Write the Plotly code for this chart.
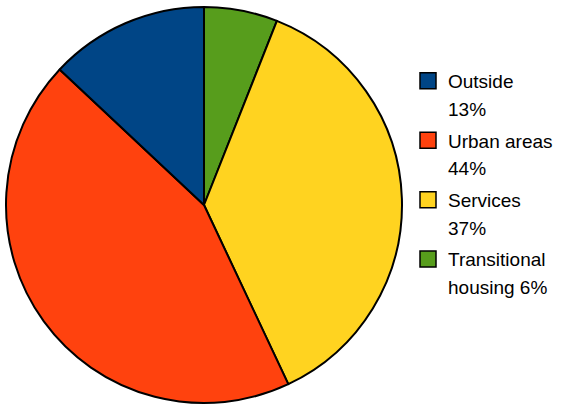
import plotly.graph_objects as go

categories = ["Outside", "Urban areas", "Services", "Transitional housing"]
legend_line1 = ["Outside", "Urban areas", "Services", "Transitional"]
legend_line2 = ["13%", "44%", "37%", "housing 6%"]
values = [13, 44, 37, 6]
colors = ["#004586", "#ff420e", "#ffd320", "#579d1c"]

fig = go.Figure()

# Pie: drawn clockwise from 12 o'clock in reverse legend order
fig.add_trace(go.Pie(
    labels=categories[::-1],
    values=values[::-1],
    sort=False,
    direction="clockwise",
    rotation=0,
    textinfo="none",
    hoverinfo="label+percent",
    showlegend=False,
    marker=dict(colors=colors[::-1], line=dict(color="black", width=2)),
    domain=dict(x=[6/570, 402/570], y=[2/407, 402/407]),
))

# Legend entries (two lines per category)
for i, cat in enumerate(categories):
    fig.add_trace(go.Scatter(
        x=[None], y=[None], mode="markers", name=legend_line1[i],
        legendgroup=cat,
        marker=dict(symbol="square", size=16, color=colors[i],
                    line=dict(color="black", width=1.5)),
        hoverinfo="skip",
    ))
    fig.add_trace(go.Scatter(
        x=[None], y=[None], mode="markers", name=legend_line2[i],
        legendgroup=cat,
        marker=dict(symbol="square", size=16, color="rgba(0,0,0,0)",
                    line=dict(width=0)),
        hoverinfo="skip",
    ))

fig.update_layout(
    width=570, height=407,
    margin=dict(l=0, r=0, t=0, b=0),
    paper_bgcolor="white",
    plot_bgcolor="white",
    showlegend=True,
    font=dict(family="Liberation Sans, Arial, sans-serif", size=19, color="black"),
    xaxis=dict(visible=False),
    yaxis=dict(visible=False),
    legend=dict(x=408/570, y=1 - 62/407, xanchor="left", yanchor="top",
                tracegroupgap=4, itemwidth=30, bgcolor="rgba(0,0,0,0)",
                font=dict(size=19)),
)

fig.write_html("out.html", config={"displayModeBar": False},
               post_script="document.body.style.margin='0';")
